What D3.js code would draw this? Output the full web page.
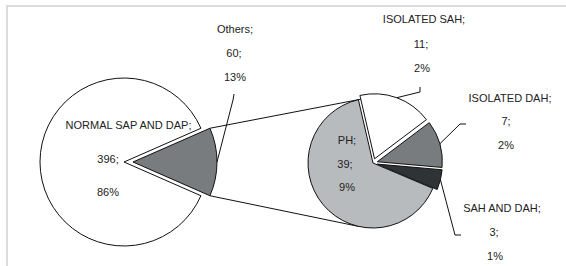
<!DOCTYPE html>
<html>
<head>
<meta charset="utf-8">
<script src="https://cdn.jsdelivr.net/npm/d3@7"></script>
<style>
  html, body { margin: 0; padding: 0; background: #fff; }
  svg { display: block; }
  text { font-family: "Liberation Sans", Arial, sans-serif; font-size: 11px; fill: #222; }
</style>
</head>
<body>
<svg id="chart" width="566" height="266"></svg>
<script>
// ---- data ----
const mainCategories = ["NORMAL SAP AND DAP", "Others"];
const mainValues = [396, 60];
const mainPctLabels = ["86%", "13%"];

const subCategories = ["PH", "ISOLATED SAH", "ISOLATED DAH", "SAH AND DAH"];
const subValues = [39, 11, 7, 3];
const subPctLabels = ["9%", "2%", "2%", "1%"];

// ---- layout ----
const svg = d3.select("#chart");
const W = 566, H = 266;
const deg = Math.PI / 180;

svg.append("rect").attr("x", 7).attr("y", 6).attr("width", 620).attr("height", 320)
  .attr("fill", "#fff").attr("stroke", "#d4d4d4").attr("stroke-width", 1.6);

const mainC = { x: 124, y: 162 }, mainR = 84;
const subC = { x: 373, y: 163 }, subR = 65;

const mainColors = ["#ffffff", "#787c7e"];
const subColors = ["#b8bbbe", "#ffffff", "#787c7e", "#2f3335"];

const mainTotal = d3.sum(mainValues);
const othersAngle = 2 * Math.PI * mainValues[1] / mainTotal;
const mainStart = Math.PI / 2 + othersAngle / 2;
const mainPie = d3.pie().sort(null).startAngle(mainStart).endAngle(mainStart + 2 * Math.PI);
const mainArcs = mainPie(mainValues);
const mainExplode = [0, 9];

const subStart = 113 * deg;
const subPie = d3.pie().sort(null).startAngle(subStart).endAngle(subStart + 2 * Math.PI);
const subArcs = subPie(subValues);
const subExplode = [0, 4.5, 4.5, 4.5];

const arcMain = d3.arc().innerRadius(0).outerRadius(mainR);
const arcSub = d3.arc().innerRadius(0).outerRadius(subR);
const rimMain = d3.arc().innerRadius(mainR).outerRadius(mainR);
const rimSub = d3.arc().innerRadius(subR).outerRadius(subR);

function offset(a, off) {
  const m = (a.startAngle + a.endAngle) / 2;
  return [Math.sin(m) * off, -Math.cos(m) * off];
}

// connector lines (drawn first)
const oth = mainArcs[1];
const [ox, oy] = offset(oth, mainExplode[1]);
const othTop = [mainC.x + ox + Math.sin(oth.startAngle) * mainR, mainC.y + oy - Math.cos(oth.startAngle) * mainR];
const othBot = [mainC.x + ox + Math.sin(oth.endAngle) * mainR, mainC.y + oy - Math.cos(oth.endAngle) * mainR];
const conTopAngle = 351.5 * deg, conBotAngle = 193 * deg;
const subTop = [subC.x + Math.sin(conTopAngle) * subR, subC.y - Math.cos(conTopAngle) * subR];
const subBot = [subC.x + Math.sin(conBotAngle) * subR, subC.y - Math.cos(conBotAngle) * subR];
const line = d3.line();
svg.append("path").attr("d", line([othTop, subTop])).attr("stroke", "#111").attr("fill", "none").attr("stroke-width", 1);
svg.append("path").attr("d", line([othBot, subBot])).attr("stroke", "#111").attr("fill", "none").attr("stroke-width", 1);

// main pie
const gMain = svg.append("g").attr("transform", `translate(${mainC.x},${mainC.y})`);
gMain.selectAll("path").data(mainArcs).join("path")
  .attr("d", arcMain)
  .attr("transform", (d, i) => { const o = offset(d, mainExplode[i]); return `translate(${o[0]},${o[1]})`; })
  .attr("fill", (d, i) => mainColors[i])
  .attr("stroke", "#111").attr("stroke-width", 1).attr("stroke-linejoin", "miter");

// sub pie
const gSub = svg.append("g").attr("transform", `translate(${subC.x},${subC.y})`);
gSub.selectAll("path").data(subArcs).join("path")
  .attr("d", arcSub)
  .attr("transform", (d, i) => { const o = offset(d, subExplode[i]); return `translate(${o[0]},${o[1]})`; })
  .attr("fill", (d, i) => subColors[i])
  .attr("stroke", "#111").attr("stroke-width", 1).attr("stroke-linejoin", "miter");

// leader lines
function rimPoint(a, c, rim, off) {
  const p = rim.centroid(a), o = offset(a, off);
  return [c.x + p[0] + o[0], c.y + p[1] + o[1]];
}
const leaders = [
  [rimPoint(mainArcs[1], mainC, rimMain, mainExplode[1]), [233, 100], [234, 94]],
  [rimPoint(subArcs[1], subC, rimSub, subExplode[1]), [420, 92], [420, 87]],
  [rimPoint(subArcs[2], subC, rimSub, subExplode[2]), [460, 124], [466, 124]],
  [rimPoint(subArcs[3], subC, rimSub, subExplode[3]), [455, 235], [461, 235]]
];
svg.selectAll("path.leader").data(leaders).join("path").attr("class", "leader")
  .attr("d", d => line(d)).attr("fill", "none").attr("stroke", "#111").attr("stroke-width", 1);

// labels
const labelPos = [
  [[128.5, 125], [108, 159], [108, 192]],
  [[235, 29], [234, 53], [235, 77]],
  [[347, 140], [345, 164], [347, 187]],
  [[424, 19], [421, 44], [422, 68]],
  [[510, 98], [506, 121], [506, 145]],
  [[502, 208], [494, 232], [495, 256]]
];
const allCats = mainCategories.concat(subCategories);
const allVals = mainValues.concat(subValues);
const allPct = mainPctLabels.concat(subPctLabels);
allCats.forEach((c, i) => {
  const lines = [c + ";", allVals[i] + ";", allPct[i]];
  lines.forEach((t, j) => {
    svg.append("text").attr("x", labelPos[i][j][0]).attr("y", labelPos[i][j][1] + 4)
      .attr("text-anchor", "middle").text(t);
  });
});
</script>
</body>
</html>
